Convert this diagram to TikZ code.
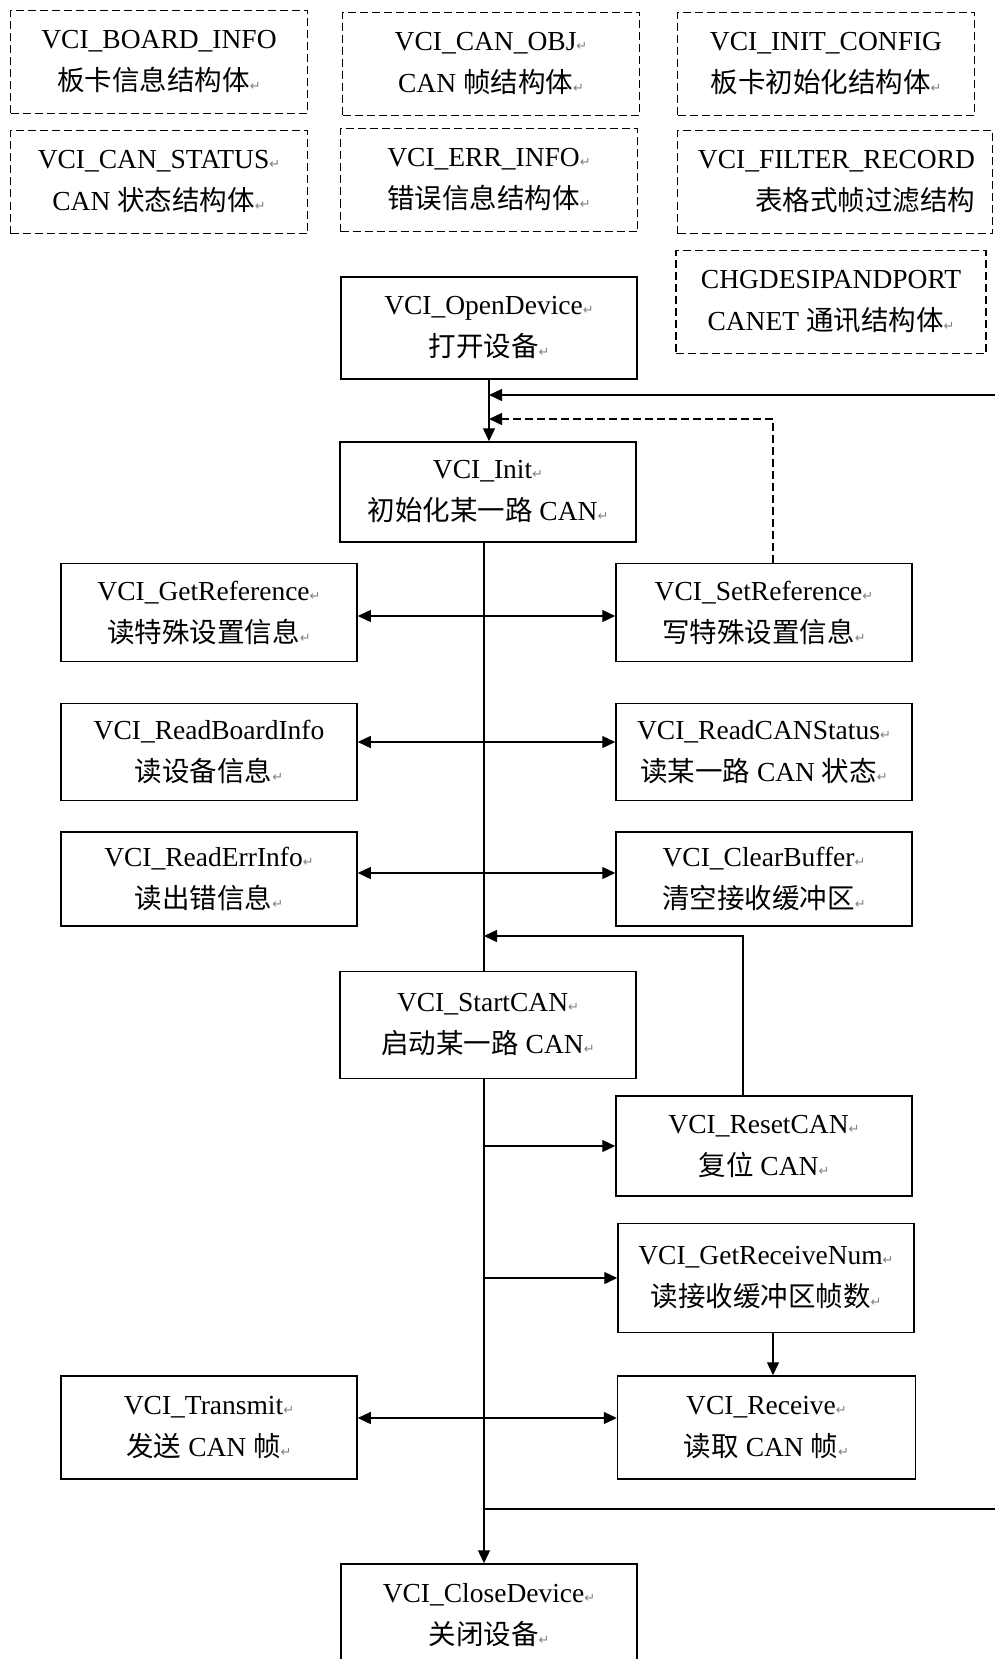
\documentclass[tikz,border=0pt]{standalone}
\usepackage{fontspec}
\setmainfont{Liberation Serif}
\newfontfamily\cjk{Noto Sans CJK SC}
\newfontfamily\symfont{DejaVu Sans}
\usetikzlibrary{arrows.meta}

\newcommand{\zh}[1]{{\cjk #1}}
\newcommand{\rt}{{\symfont\fontsize{13}{13}\selectfont\color{gray}↵}}

\tikzset{
    fbox/.style={draw, line width=1.5pt, minimum width=296pt, minimum height=100pt, align=center, inner sep=0pt},
    dbox/.style={fbox, line width=1.3pt, dash pattern=on 8pt off 4pt, minimum width=297pt, minimum height=103pt},
    link/.style={line width=1.3pt},
    arr/.style={link, -{Triangle[length=13pt,width=12pt]}},
    arr2/.style={link, {Triangle[length=13pt,width=12pt]}-{Triangle[length=13pt,width=12pt]}},
}

\begin{document}
\begin{tikzpicture}[x=1pt, y=-1pt, font=\fontsize{27.5}{42}\selectfont]
    \clip (0,0) rectangle (995,1659);
    \fill[white] (0,0) rectangle (995,1659);

    % Structures
    \node[dbox] (boardinfo) at (159,62) {VCI\_BOARD\_INFO\\ \zh{板卡信息结构体}\rt};
    \node[dbox] (canobj) at (491,64) {VCI\_CAN\_OBJ\rt\\ CAN \zh{帧结构体}\rt};
    \node[dbox] (initcfg) at (826,64) {VCI\_INIT\_CONFIG\\ \zh{板卡初始化结构体}\rt};
    \node[dbox] (canstatus) at (159,182) {VCI\_CAN\_STATUS\rt\\ CAN \zh{状态结构体}\rt};
    \node[dbox] (errinfo) at (489,180) {VCI\_ERR\_INFO\rt\\ \zh{错误信息结构体}\rt};
    \node[dbox, minimum width=315pt, text width=280pt, align=right] (filterrec) at (835,182) {VCI\_FILTER\_RECORD\\ \zh{表格式帧过滤结构}};
    \node[dbox, minimum width=310pt] (chgdes) at (831,302) {CHGDESIPANDPORT\\ CANET \zh{通讯结构体}\rt};

    % Functions
    \node[fbox, minimum height=102pt] (open) at (489,328) {VCI\_OpenDevice\rt\\ \zh{打开设备}\rt};
    \node[fbox] (init) at (488,492) {VCI\_Init\rt\\ \zh{初始化某一路} CAN\rt};
    \node[fbox, minimum height=98pt] (getref) at (209,612.5) {VCI\_GetReference\rt\\ \zh{读特殊设置信息}\rt};
    \node[fbox, minimum height=98pt] (setref) at (764,612.5) {VCI\_SetReference\rt\\ \zh{写特殊设置信息}\rt};
    \node[fbox, minimum height=97pt] (readboard) at (209,752) {VCI\_ReadBoardInfo\\ \zh{读设备信息}\rt};
    \node[fbox, minimum height=97pt] (readstatus) at (764,752) {VCI\_ReadCANStatus\rt\\ \zh{读某一路} CAN \zh{状态}\rt};
    \node[fbox, minimum height=94pt] (readerr) at (209,879) {VCI\_ReadErrInfo\rt\\ \zh{读出错信息}\rt};
    \node[fbox, minimum height=94pt] (clearbuf) at (764,879) {VCI\_ClearBuffer\rt\\ \zh{清空接收缓冲区}\rt};
    \node[fbox, minimum height=107pt] (startcan) at (488,1025) {VCI\_StartCAN\rt\\ \zh{启动某一路} CAN\rt};
    \node[fbox] (resetcan) at (764,1146) {VCI\_ResetCAN\rt\\ \zh{复位} CAN\rt};
    \node[fbox, minimum height=109pt] (getrecv) at (766,1278) {VCI\_GetReceiveNum\rt\\ \zh{读接收缓冲区帧数}\rt};
    \node[fbox, minimum height=103pt] (transmit) at (209,1427.5) {VCI\_Transmit\rt\\ \zh{发送} CAN \zh{帧}\rt};
    \node[fbox, minimum height=103pt, minimum width=298pt] (receive) at (766.5,1427.5) {VCI\_Receive\rt\\ \zh{读取} CAN \zh{帧}\rt};
    \node[fbox, minimum height=102pt] (close) at (489,1615) {VCI\_CloseDevice\rt\\ \zh{关闭设备}\rt};

    % Trunk
    \coordinate (tx) at (484,0);
    \coordinate (j1) at (489,395);
    \coordinate (j2) at (489,419);
    \draw[arr] (open.south) -- (open.south |- init.north);
    \draw[link] (init.south -| tx) -- (startcan.north -| tx);
    \draw[arr] (startcan.south -| tx) -- (close.north -| tx);

    % Branches
    \foreach \y/\l/\r in {616/getref/setref, 742/readboard/readstatus, 873/readerr/clearbuf, 1418/transmit/receive} {
        \coordinate (t) at (484,\y);
        \draw[arr2] (\l.east |- t) -- (\r.west |- t);
    }
    \foreach \y/\r in {1146/resetcan, 1278/getrecv} {
        \coordinate (t) at (484,\y);
        \draw[arr] (t) -- (\r.west |- t);
    }

    % Loops back
    \coordinate (b4) at (484,936);
    \draw[arr] ([xshift=-21pt]resetcan.north) |- (b4);
    \draw[arr, dash pattern=on 8pt off 4pt] ([xshift=9pt]setref.north) |- (j2);
    \coordinate (b7) at (484,1509);
    \coordinate (edge) at (1001,1509);
    \draw[arr] (b7) -- (edge) |- (j1);
    \coordinate (g) at ([xshift=7pt]getrecv.south);
    \draw[arr] (g) -- (g |- receive.north);
\end{tikzpicture}
\end{document}
